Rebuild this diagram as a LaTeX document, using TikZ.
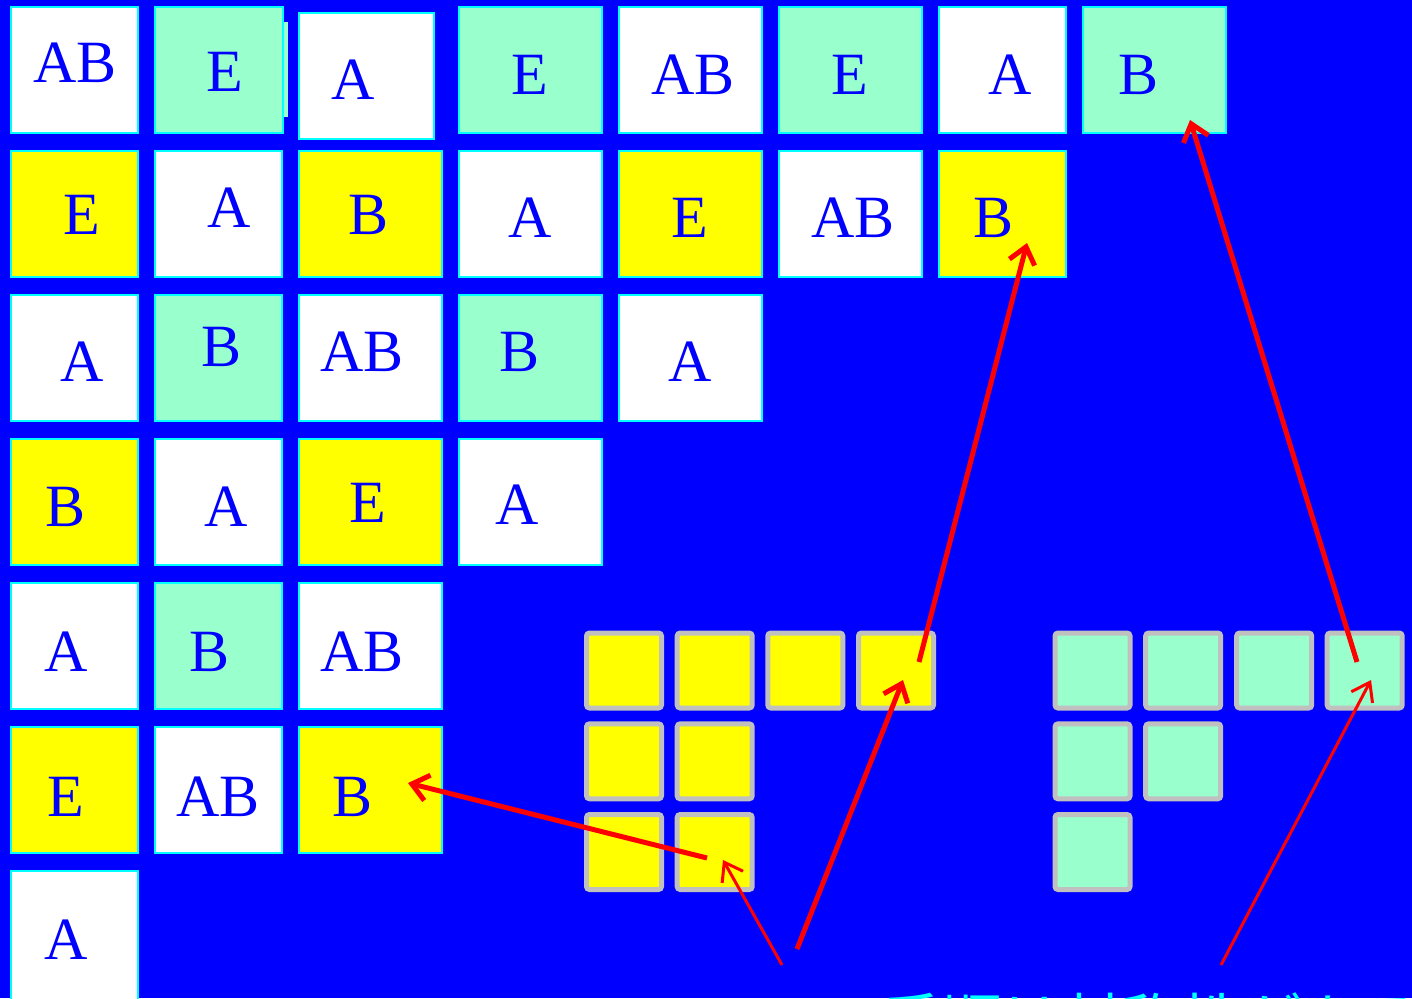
\documentclass[tikz,border=0pt]{standalone}
\usepackage{fontspec}
\setmainfont{Liberation Serif}
\newfontfamily\cjk{Noto Sans CJK JP}
\usetikzlibrary{arrows.meta}
\definecolor{bgblue}{RGB}{0,0,255}
\definecolor{mint}{RGB}{153,255,204}
\definecolor{ylw}{RGB}{255,255,0}
\definecolor{cyn}{RGB}{0,255,255}
\definecolor{gry}{RGB}{192,192,192}
\definecolor{rd}{RGB}{255,0,0}
\tikzset{
  cellst/.style={draw=cyn, line width=2pt, inner sep=0pt, outer sep=0pt, anchor=north west},
  letter/.style={text=bgblue, inner sep=0pt, font=\fontsize{60}{60}\selectfont},
  sq/.style={draw=gry, line width=5pt, rounded corners=3pt, minimum size=75pt, inner sep=0pt},
  thickarr/.style={draw=rd, line width=5pt, -{Straight Barb[length=16pt,width=26pt]}},
  thinarr/.style={draw=rd, line width=3pt, -{Straight Barb[length=17pt,width=24pt]}},
}
\newcommand\cellbox[8]{%
  \node[cellst, fill=#6, minimum width={(#4-#2-2)*1pt}, minimum height={(#5-#3-2)*1pt}] (#1) at (#2+1,#3+1) {};
  \node[letter] (#1t) at (#8) {#7};
}
\begin{document}
\begin{tikzpicture}[x=1pt,y=-1pt]
\fill[bgblue] (0,0) rectangle (1412,998);
\useasboundingbox (0,0) rectangle (1412,998);
% row 1
\cellbox{c11}{10}{6}{139}{134}{white}{AB}{75,63}
\fill[mint] (283,22) rectangle (288,117);
\cellbox{c12}{154}{6}{284}{134}{mint}{E}{225,72}
\cellbox{c13}{298}{12}{435}{140}{white}{A}{353,80}
\cellbox{c14}{458}{6}{603}{134}{mint}{E}{530,75}
\cellbox{c15}{618}{6}{763}{134}{white}{AB}{693,75}
\cellbox{c16}{778}{6}{923}{134}{mint}{E}{850,75}
\cellbox{c17}{938}{6}{1067}{134}{white}{A}{1010,75}
\cellbox{c18}{1082}{6}{1227}{134}{mint}{B}{1138,75}
% row 2
\cellbox{c21}{10}{150}{139}{278}{ylw}{E}{82,215}
\cellbox{c22}{154}{150}{283}{278}{white}{A}{229,208}
\cellbox{c23}{298}{150}{443}{278}{ylw}{B}{369,215}
\cellbox{c24}{458}{150}{603}{278}{white}{A}{530,218}
\cellbox{c25}{618}{150}{763}{278}{ylw}{E}{690,218}
\cellbox{c26}{778}{150}{923}{278}{white}{AB}{853,218}
\cellbox{c27}{938}{150}{1067}{278}{ylw}{B}{993,218}
% row 3
\cellbox{c31}{10}{294}{139}{422}{white}{A}{82,362}
\cellbox{c32}{154}{294}{283}{422}{mint}{B}{222,347}
\cellbox{c33}{298}{294}{443}{422}{white}{AB}{362,352}
\cellbox{c34}{458}{294}{603}{422}{mint}{B}{520,352}
\cellbox{c35}{618}{294}{763}{422}{white}{A}{690,362}
% row 4
\cellbox{c41}{10}{438}{139}{566}{ylw}{B}{66,507}
\cellbox{c42}{154}{438}{283}{566}{white}{A}{226,507}
\cellbox{c43}{298}{438}{443}{566}{ylw}{E}{368,503}
\cellbox{c44}{458}{438}{603}{566}{white}{A}{517,505}
% row 5
\cellbox{c51}{10}{582}{139}{710}{white}{A}{66,652}
\cellbox{c52}{154}{582}{283}{710}{mint}{B}{210,652}
\cellbox{c53}{298}{582}{443}{710}{white}{AB}{362,652}
% row 6
\cellbox{c61}{10}{726}{139}{854}{ylw}{E}{66,797}
\cellbox{c62}{154}{726}{283}{854}{white}{AB}{218,797}
\cellbox{c63}{298}{726}{443}{854}{ylw}{B}{353,797}
% row 7
\cellbox{c71}{10}{870}{139}{1010}{white}{A}{66,940}
% yellow squares
\node[sq, fill=ylw] (y11) at (624,670.5) {};
\node[sq, fill=ylw] (y12) at (714.7,670.5) {};
\node[sq, fill=ylw] (y13) at (805.3,670.5) {};
\node[sq, fill=ylw] (y14) at (896,670.5) {};
\node[sq, fill=ylw] (y21) at (624,761.3) {};
\node[sq, fill=ylw] (y22) at (714.7,761.3) {};
\node[sq, fill=ylw] (y31) at (624,852) {};
\node[sq, fill=ylw] (y32) at (714.7,852) {};
% green squares
\node[sq, fill=mint] (g11) at (1092.5,670.5) {};
\node[sq, fill=mint] (g12) at (1183.2,670.5) {};
\node[sq, fill=mint] (g13) at (1274.2,670.5) {};
\node[sq, fill=mint] (g14) at (1364.7,670.5) {};
\node[sq, fill=mint] (g21) at (1092.5,761.3) {};
\node[sq, fill=mint] (g22) at (1183.2,761.3) {};
\node[sq, fill=mint] (g31) at (1092.5,852) {};
% bottom text (cut off at the lower edge, as in the reference)
\node[anchor=base west, text=cyn, inner sep=0pt, font=\cjk\fontsize{60}{60}\selectfont] (note) at (762,1043) {この手順は対称性がある};
% arrow coordinates
\coordinate (a1s) at (707,858);
\coordinate (a1e) at (408,783);
\coordinate (a2s) at (782,965);
\coordinate (a2e) at (723,860);
\coordinate (a3s) at (797,949);
\coordinate (a3e) at (903,680);
\coordinate (a4s) at (919,662);
\coordinate (a4e) at (1027,243);
\coordinate (a5s) at (1357,662);
\coordinate (a5e) at (1190,120);
\coordinate (a6s) at (1221,965);
\coordinate (a6e) at (1371,680);
% arrows
\draw[thickarr] (a1s) -- (a1e);
\draw[thinarr] (a2s) -- (a2e);
\draw[thickarr] (a3s) -- (a3e);
\draw[thickarr] (a4s) -- (a4e);
\draw[thickarr] (a5s) -- (a5e);
\draw[thinarr] (a6s) -- (a6e);
\end{tikzpicture}
\end{document}
